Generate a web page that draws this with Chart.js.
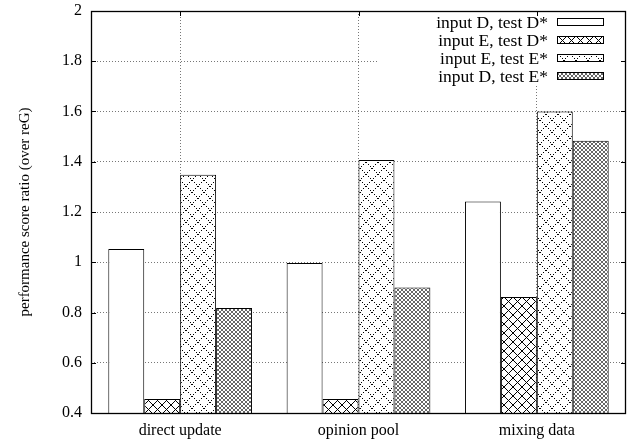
<!DOCTYPE html>
<html>
<head>
<meta charset="utf-8">
<script src="https://cdn.jsdelivr.net/npm/chart.js@4/dist/chart.umd.min.js"></script>
<style>
  body { margin: 0; background: #fff; }
  #wrap { width: 638px; height: 443px; }
</style>
</head>
<body>
<div id="wrap"><canvas id="scoreChart" width="638" height="443"></canvas></div>
<script>
const categories = ["direct update", "opinion pool", "mixing data"];
const seriesNames = ["input D, test D*", "input E, test D*", "input E, test E*", "input D, test E*"];
const inputDtestD = [1.053, 0.997, 1.242];
const inputEtestD = [0.456, 0.456, 0.862];
const inputEtestE = [1.348, 1.407, 1.600];
const inputDtestE = [0.818, 0.900, 1.484];
const yTicks = [0.4, 0.6, 0.8, 1, 1.2, 1.4, 1.6, 1.8, 2];

const canvas = document.getElementById("scoreChart");
const ctx = canvas.getContext("2d");
const serif = "'Liberation Serif', 'DejaVu Serif', serif";

// gnuplot-like fill patterns
function makePattern(size, draw) {
  const c = document.createElement("canvas");
  c.width = size;
  c.height = size;
  const g = c.getContext("2d");
  g.fillStyle = "#fff";
  g.fillRect(0, 0, size, size);
  draw(g, size);
  return ctx.createPattern(c, "repeat");
}

const emptyFill = "#ffffff";
const crossFill = makePattern(9, (g, s) => {
  g.fillStyle = "#000";
  for (let i = 0; i < s; i++) {
    g.fillRect(i, i, 1, 1);
    g.fillRect(s - 1 - i, i, 1, 1);
  }
});
const dotCrossFill = makePattern(12, (g, s) => {
  g.fillStyle = "#000";
  for (let i = 0; i < s; i += 2) {
    g.fillRect(i, i, 1, 1);
    g.fillRect(s - 1 - i, i, 1, 1);
  }
});
const denseFill = makePattern(4, (g, s) => {
  g.fillStyle = "#666";
  for (let i = 0; i < s; i++) {
    g.fillRect(i, i, 1, 1);
    g.fillRect(s - 1 - i, i, 1, 1);
  }
});

const fills = [emptyFill, crossFill, dotCrossFill, denseFill];
const values = [inputDtestD, inputEtestD, inputEtestE, inputDtestE];

// legend, tick marks and border drawn like gnuplot
const gnuplotFrame = {
  id: "gnuplotFrame",
  afterDatasetsDraw(chart) {
    const c = chart.ctx;
    const area = chart.chartArea;
    const xs = chart.scales.x;
    const ys = chart.scales.y;

    // opaque key box
    c.save();
    c.fillStyle = "#fff";
    c.fillRect(378, 14, area.right - 378 - 6, 72);
    c.font = "17.5px " + serif;
    c.textAlign = "right";
    c.textBaseline = "middle";
    c.fillStyle = "#000";
    seriesNames.forEach((name, i) => {
      const cy = 22 + i * 18;
      c.fillText(name, 548, cy + 1);
      c.fillStyle = fills[i];
      c.fillRect(557, cy - 4, 47, 8);
      c.strokeStyle = "#000";
      c.lineWidth = 1;
      c.strokeRect(557.5, cy - 3.5, 46, 7);
      c.fillStyle = "#000";
    });

    // tick marks
    c.strokeStyle = "#000";
    c.lineWidth = 1;
    c.beginPath();
    ys.ticks.forEach(t => {
      const y = Math.round(ys.getPixelForValue(t.value)) + 0.5;
      c.moveTo(area.left, y);
      c.lineTo(area.left + 5, y);
      c.moveTo(area.right, y);
      c.lineTo(area.right - 5, y);
    });
    categories.forEach((_, i) => {
      const x = Math.round(xs.getPixelForValue(i)) + 0.5;
      c.moveTo(x, area.top);
      c.lineTo(x, area.top + 5);
    });
    c.stroke();

    // border
    c.lineWidth = 1.3;
    c.strokeRect(Math.round(area.left) + 0.5, Math.round(area.top) + 0.5,
      Math.round(area.right - area.left) - 1, Math.round(area.bottom - area.top));
    c.restore();
  }
};

new Chart(ctx, {
  type: "bar",
  data: {
    labels: categories,
    datasets: seriesNames.map((name, i) => ({
      label: name,
      data: values[i],
      backgroundColor: fills[i],
      borderColor: "#000",
      borderWidth: 1,
      borderSkipped: false,
      categoryPercentage: 0.806,
      barPercentage: 1.0,
    })),
  },
  options: {
    responsive: false,
    animation: false,
    layout: { padding: { left: 0, right: 12, top: 11, bottom: 0 } },
    plugins: {
      legend: { display: false },
      tooltip: { enabled: false },
    },
    scales: {
      x: {
        offset: true,
        grid: {
          offset: false,
          drawTicks: false,
          color: "#777",
          lineWidth: 1,
        },
        border: { display: false, dash: [1, 2] },
        ticks: {
          color: "#000",
          padding: 8,
          font: { family: serif, size: 16 },
        },
        afterFit(scale) {
          scale.height = 30;
          scale.paddingLeft = 0;
          scale.paddingRight = 0;
        },
      },
      y: {
        min: 0.4,
        max: 2,
        afterBuildTicks(scale) {
          scale.ticks = yTicks.map(v => ({ value: v }));
        },
        grid: {
          drawTicks: false,
          color: "#777",
          lineWidth: 1,
        },
        border: { display: false, dash: [1, 2] },
        ticks: {
          color: "#000",
          padding: 9,
          font: { family: serif, size: 16 },
          callback: v => String(v),
        },
        title: {
          display: true,
          text: "performance score ratio (over reG)",
          color: "#000",
          font: { family: serif, size: 15 },
          padding: { top: 16, bottom: 0 },
        },
        afterFit(scale) {
          scale.width = 91;
          scale.paddingTop = 0;
          scale.paddingBottom = 0;
        },
      },
    },
  },
  plugins: [gnuplotFrame],
});
</script>
</body>
</html>
